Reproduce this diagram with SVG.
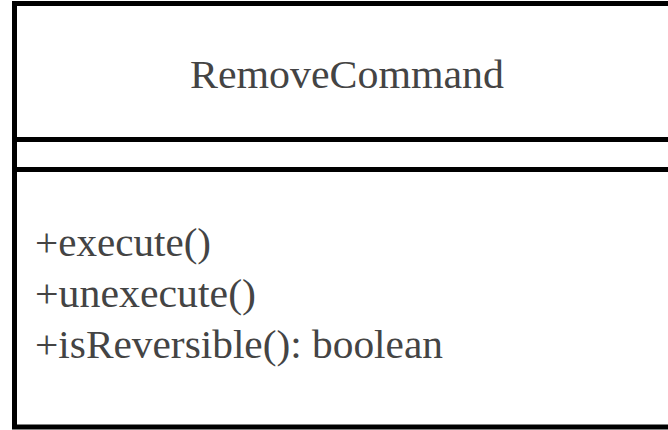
<svg xmlns="http://www.w3.org/2000/svg" width="668" height="430" viewBox="0 0 668 430">
  <style>
    .frame { fill: #ffffff; stroke: #000000; stroke-width: 5; }
    .divider { stroke: #000000; stroke-width: 5; fill: none; }
    .label { font-family: "Liberation Serif", "DejaVu Serif", serif; font-size: 39px; fill: #444444; }
  </style>
  <rect width="668" height="430" fill="#ffffff"/>
  <g id="RemoveCommand">
    <!-- class box; the right edge runs past the canvas -->
    <rect class="frame" x="14.5" y="3.5" width="680" height="423.5"/>
    <line class="divider" x1="14.5" y1="139.5" x2="690" y2="139.5"/>
    <line class="divider" x1="14.5" y1="169.5" x2="690" y2="169.5"/>
    <text class="label" x="347" y="88" text-anchor="middle" textLength="314" lengthAdjust="spacingAndGlyphs">RemoveCommand</text>
    <text class="label" x="35" y="256" textLength="176" lengthAdjust="spacingAndGlyphs">+execute()</text>
    <text class="label" x="35" y="307" textLength="221" lengthAdjust="spacingAndGlyphs">+unexecute()</text>
    <text class="label" x="35" y="358" textLength="408" lengthAdjust="spacingAndGlyphs">+isReversible(): boolean</text>
  </g>
  <g id="connectors"/>
</svg>
